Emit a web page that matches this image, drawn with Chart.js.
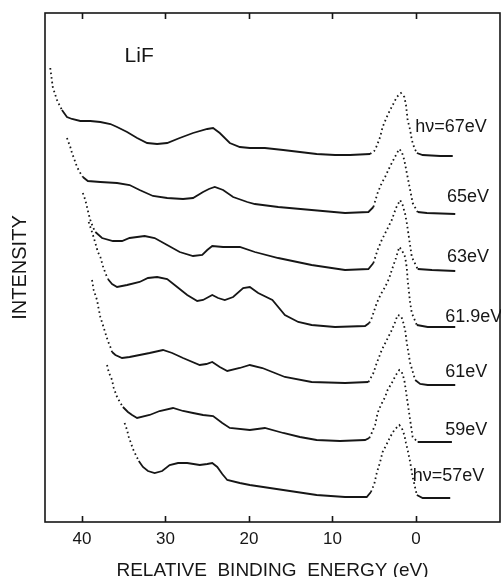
<!DOCTYPE html>
<html>
<head>
<meta charset="utf-8">
<title>LiF valence band spectra</title>
<script src="https://cdn.jsdelivr.net/npm/chart.js@4.4.1/dist/chart.umd.min.js"></script>
<style>
    html, body { margin: 0; padding: 0; background: #fff; }
    #wrap { width: 501px; height: 577px; }
</style>
</head>
<body>
<div id="wrap"><canvas id="spectra" width="501" height="577"></canvas></div>
<script>
// relative binding energy axis (eV), drawn reversed
const tickValues = [40, 30, 20, 10, 0];

// each spectrum: energies (eV) and intensity (arb. units, already offset as in the figure)
const energy67 = [43.8, 43.5, 43.0, 42.4, 41.8, 41.2, 40.2, 39.0, 37.8, 36.6, 35.8, 34.6, 33.4, 32.2, 31.0, 29.8, 28.3, 26.7, 25.0, 24.3, 23.5, 22.3, 21.1, 19.9, 18.1, 15.9, 13.9, 11.9, 9.7, 7.9, 5.5, 5.0, 4.7, 4.3, 4.0, 3.5, 3.1, 2.6, 2.3, 1.8, 1.4, 1.2, 1.0, 0.7, 0.5, 0.2, -0.1, -0.8, -2.9, -4.4];
const intensity67 = [454, 435, 422, 412, 405, 403, 401, 401, 400, 398, 395, 390, 384, 379, 378, 379, 384, 389, 393, 394, 389, 379, 375, 374, 374, 372, 370, 368, 367, 367, 368, 371, 376, 385, 395, 405, 412, 420, 425, 429, 425, 417, 402, 392, 382, 374, 369, 367, 366, 366];

const energy65 = [41.8, 41.4, 41.2, 40.8, 40.6, 40.2, 39.9, 39.3, 37.8, 35.8, 34.3, 33.1, 31.5, 29.8, 27.9, 26.7, 25.5, 24.8, 24.1, 23.1, 21.9, 20.2, 19.3, 16.5, 12.5, 8.5, 5.7, 5.1, 4.6, 4.1, 3.7, 3.2, 2.9, 2.4, 2.0, 1.7, 1.4, 1.1, 0.7, 0.4, -0.2, -1.3, -4.7];
const intensity65 = [384, 375, 369, 360, 355, 349, 345, 341, 340, 339, 337, 332, 326, 324, 323, 324, 330, 333, 335, 332, 325, 320, 318, 315, 312, 309, 310, 315, 329, 339, 345, 354, 359, 367, 373, 370, 362, 349, 332, 319, 310, 309, 308];

const energy63 = [39.9, 39.6, 39.4, 39.2, 39.0, 38.7, 38.4, 37.6, 36.3, 35.2, 34.3, 32.5, 31.3, 29.8, 28.3, 26.7, 25.6, 25.0, 24.4, 23.1, 21.1, 19.3, 16.5, 12.5, 8.5, 5.7, 5.1, 4.6, 4.1, 3.5, 2.9, 2.4, 1.9, 1.6, 1.3, 1.1, 0.8, 0.5, -0.2, -1.9, -4.7];
const intensity63 = [329, 322, 315, 308, 302, 295, 290, 284, 281, 281, 284, 286, 284, 277, 270, 266, 267, 272, 276, 275, 275, 270, 264, 257, 252, 253, 259, 272, 282, 292, 302, 314, 322, 317, 308, 299, 282, 265, 253, 252, 251];

const energy619 = [39.2, 38.8, 38.4, 38.1, 37.8, 37.5, 37.2, 36.9, 36.4, 35.8, 34.6, 33.1, 32.1, 31.0, 29.8, 28.6, 27.4, 26.2, 25.5, 24.4, 23.7, 22.9, 21.9, 20.7, 19.9, 18.9, 17.2, 15.7, 14.1, 12.5, 9.7, 6.1, 5.6, 5.3, 4.7, 4.2, 3.7, 3.2, 2.9, 2.4, 2.0, 1.7, 1.3, 1.1, 1.0, 0.7, 0.5, -0.1, -1.4, -4.7];
const intensity619 = [300, 290, 279, 270, 265, 256, 249, 243, 238, 235, 237, 240, 244, 245, 243, 235, 227, 221, 222, 227, 224, 222, 225, 234, 235, 229, 222, 207, 200, 197, 195, 196, 199, 204, 219, 228, 235, 244, 252, 264, 275, 272, 265, 254, 242, 219, 209, 197, 195, 195];

const energy61 = [38.8, 38.6, 38.2, 38.0, 37.8, 37.5, 37.2, 36.9, 36.6, 36.4, 36.0, 35.2, 34.3, 33.1, 31.9, 30.3, 29.2, 27.9, 25.9, 25.1, 24.4, 23.5, 22.6, 21.1, 19.9, 18.4, 16.9, 15.7, 12.5, 8.5, 5.7, 5.1, 4.7, 4.1, 3.5, 2.9, 2.5, 2.2, 1.8, 1.6, 1.3, 1.1, 0.7, 0.1, -0.5, -1.4, -4.7];
const intensity61 = [242, 232, 222, 213, 205, 197, 189, 181, 175, 170, 167, 164, 165, 167, 169, 172, 169, 164, 157, 158, 160, 155, 151, 154, 157, 154, 149, 145, 140, 139, 140, 149, 159, 172, 182, 192, 200, 207, 206, 202, 192, 179, 159, 142, 138, 137, 137];

const energy59 = [37.0, 36.8, 36.4, 36.2, 35.8, 35.4, 35.1, 34.5, 34.0, 33.4, 31.9, 30.7, 29.1, 27.9, 26.7, 25.5, 24.3, 23.2, 22.3, 19.9, 18.1, 15.9, 13.9, 11.9, 9.1, 6.1, 5.6, 5.3, 4.9, 4.6, 4.2, 3.7, 3.4, 2.9, 2.4, 2.0, 1.7, 1.4, 1.1, 0.7, 0.4, -0.2, -1.7, -4.3];
const intensity59 = [157, 150, 142, 134, 125, 119, 115, 110, 107, 104, 107, 111, 114, 111, 109, 107, 106, 99, 94, 92, 94, 89, 85, 82, 81, 82, 84, 89, 97, 109, 117, 125, 132, 139, 147, 152, 150, 142, 125, 102, 85, 80, 80, 80];

const energy57 = [34.9, 34.6, 34.4, 34.1, 33.9, 33.5, 33.2, 32.7, 32.1, 31.3, 30.4, 29.5, 28.5, 27.4, 25.9, 25.0, 24.4, 23.8, 23.2, 22.6, 21.1, 19.9, 15.9, 11.9, 8.5, 5.9, 5.4, 5.0, 4.7, 4.3, 4.0, 3.5, 3.1, 2.6, 2.0, 1.7, 1.4, 1.2, 1.0, 0.7, 0.4, -0.1, -0.8, -4.1];
const intensity57 = [99, 92, 85, 78, 73, 66, 61, 55, 51, 49, 51, 57, 59, 59, 57, 58, 59, 55, 48, 42, 39, 37, 32, 27, 25, 25, 30, 38, 49, 60, 70, 78, 85, 92, 97, 94, 87, 79, 72, 60, 45, 27, 24, 24];

// photon energy labels, anchored in data units next to each trace
const labelTexts = ['h\u03BD=67eV', '65eV', '63eV', '61.9eV', '61eV', '59eV', 'h\u03BD=57eV'];
const labelEnergy = [0.1, -3.7, -3.7, -3.5, -3.5, -3.5, 0.4];
const labelIntensity = [395, 325, 265, 205, 150, 92, 46];

const INK = '#161616';
const FONT = '"Liberation Sans", Arial, sans-serif';

const spectra = [
    [energy67, intensity67],
    [energy65, intensity65],
    [energy63, intensity63],
    [energy619, intensity619],
    [energy61, intensity61],
    [energy59, intensity59],
    [energy57, intensity57]
];

// steep stretches and the Li 1s peak show the single points, like the original plot
function isDotted(ctx) {
    const dx = Math.abs(ctx.p1.x - ctx.p0.x);
    const dy = Math.abs(ctx.p1.y - ctx.p0.y);
    const e0 = ctx.p0.parsed.x;
    const e1 = ctx.p1.parsed.x;
    const inPeak = e0 <= 5.5 && e0 >= -0.3 && e1 <= 5.5 && e1 >= -0.3;
    return dy > 1.5 * dx || inPeak;
}

const datasets = spectra.map(([energies, values], i) => ({
    label: labelTexts[i],
    data: energies.map((e, j) => ({ x: e, y: values[j] })),
    showLine: true,
    borderColor: INK,
    borderWidth: 1.8,
    pointRadius: 0,
    segment: {
        borderDash: ctx => isDotted(ctx) ? [1.6, 3] : undefined
    }
}));

const framePlugin = {
    id: 'frame',
    beforeDatasetsDraw(chart) {
        const { ctx, chartArea: a, scales: { x } } = chart;
        ctx.save();
        ctx.strokeStyle = INK;
        ctx.lineWidth = 1.6;
        ctx.strokeRect(a.left, a.top, a.right - a.left, a.bottom - a.top);
        x.ticks.forEach(t => {
            const px = Math.round(x.getPixelForValue(t.value)) + 0.5;
            ctx.beginPath();
            ctx.moveTo(px, a.bottom);
            ctx.lineTo(px, a.bottom - 6);
            ctx.moveTo(px, a.top);
            ctx.lineTo(px, a.top + 6);
            ctx.stroke();
        });
        ctx.restore();
    }
};

const labelPlugin = {
    id: 'traceLabels',
    afterDatasetsDraw(chart) {
        const { ctx, scales: { x, y } } = chart;
        ctx.save();
        ctx.fillStyle = INK;
        ctx.textAlign = 'left';
        ctx.textBaseline = 'middle';
        ctx.font = '18px ' + FONT;
        labelTexts.forEach((t, i) => {
            ctx.fillText(t, x.getPixelForValue(labelEnergy[i]), y.getPixelForValue(labelIntensity[i]));
        });
        ctx.font = '21px ' + FONT;
        ctx.fillText('LiF', x.getPixelForValue(34.9), y.getPixelForValue(466));
        ctx.restore();
    }
};

new Chart(document.getElementById('spectra'), {
    type: 'scatter',
    data: { datasets },
    options: {
        responsive: false,
        animation: false,
        events: [],
        layout: { padding: { top: 13, right: 1, left: 0, bottom: 0 } },
        plugins: {
            legend: { display: false },
            tooltip: { enabled: false }
        },
        scales: {
            x: {
                type: 'linear',
                reverse: true,
                min: -10.06,
                max: 44.43,
                afterFit: scale => { scale.height = 55; },
                afterBuildTicks: scale => { scale.ticks = tickValues.map(v => ({ value: v })); },
                grid: { display: false, drawTicks: false },
                border: { display: false },
                ticks: {
                    color: INK,
                    font: { family: FONT, size: 17 },
                    padding: 7,
                    autoSkip: false,
                    maxRotation: 0
                },
                title: {
                    display: true,
                    text: 'RELATIVE  BINDING  ENERGY (eV)',
                    color: INK,
                    font: { family: FONT, size: 19, lineHeight: 1 },
                    padding: { top: 0, bottom: -3 }
                }
            },
            y: {
                min: 0,
                max: 509,
                afterFit: scale => { scale.width = 45; },
                grid: { display: false, drawTicks: false },
                border: { display: false },
                ticks: { display: false },
                title: {
                    display: true,
                    text: 'INTENSITY',
                    color: INK,
                    font: { family: FONT, size: 20, lineHeight: 1 },
                    padding: { top: 10, bottom: 0 }
                }
            }
        }
    },
    plugins: [framePlugin, labelPlugin]
});
</script>
</body>
</html>
